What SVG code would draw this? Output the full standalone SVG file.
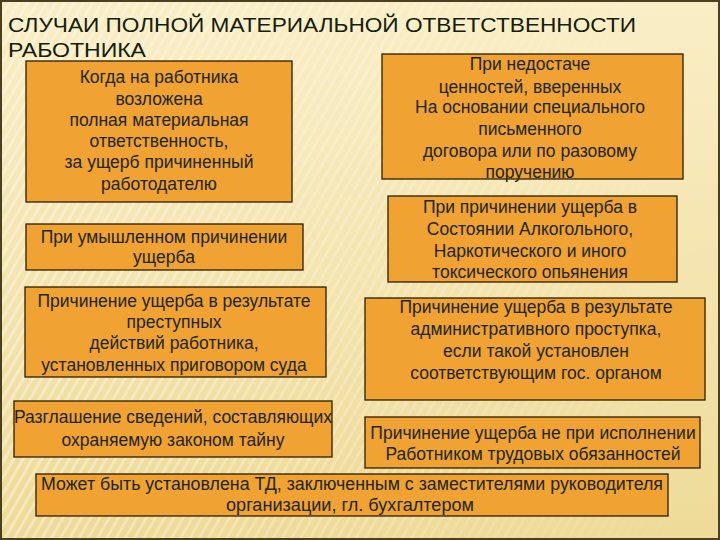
<svg xmlns="http://www.w3.org/2000/svg" width="720" height="540" viewBox="0 0 720 540">
<defs>
<linearGradient id="bg" x1="0" y1="0" x2="0" y2="1">
<stop offset="0" stop-color="#faeec6"/>
<stop offset="1" stop-color="#eedb98"/>
</linearGradient>
<pattern id="stripes" width="8" height="8" patternUnits="userSpaceOnUse" patternTransform="rotate(30)">
<rect width="8" height="8" fill="none"/>
<rect width="3" height="8" fill="#ffffff" opacity="0.35"/>
</pattern>
<linearGradient id="fade" x1="0" y1="0" x2="1" y2="0">
<stop offset="0" stop-color="#fff" stop-opacity="1"/>
<stop offset="0.5" stop-color="#fff" stop-opacity="0.6"/>
<stop offset="1" stop-color="#fff" stop-opacity="0"/>
</linearGradient>
<mask id="m"><rect width="720" height="540" fill="url(#fade)"/></mask>
</defs>
<style>
.box{fill:#f0a232;stroke:#2a1e08;stroke-width:1.3}
.t{font-family:"Liberation Sans",Arial,sans-serif;font-size:17.5px;fill:#1c2610;text-anchor:middle}
.n{font-family:"Liberation Sans",Arial,sans-serif;fill:#13200a}
</style>
<rect width="720" height="540" fill="url(#bg)"/>
<rect width="720" height="540" fill="url(#stripes)" mask="url(#m)"/>
<rect x="1" y="1" width="718" height="538" fill="none" stroke="#4a4020" stroke-width="2"/>
<g id="title">
<text class="n" x="8" y="32" font-size="21" textLength="628" lengthAdjust="spacingAndGlyphs">СЛУЧАИ ПОЛНОЙ МАТЕРИАЛЬНОЙ ОТВЕТСТВЕННОСТИ</text>
<text class="n" x="8" y="57" font-size="21" textLength="138" lengthAdjust="spacingAndGlyphs">РАБОТНИКА</text>
</g>
<g id="connectors"></g>
<g id="n1">
<rect class="box" x="26" y="61" width="266" height="141"/>
<text class="t" x="159" y="83">Когда на работника</text>
<text class="t" x="159" y="105">возложена</text>
<text class="t" x="159" y="126">полная материальная</text>
<text class="t" x="159" y="147">ответственность,</text>
<text class="t" x="159" y="168">за ущерб причиненный</text>
<text class="t" x="159" y="190">работодателю</text>
</g>
<g id="n2">
<rect class="box" x="26" y="224" width="277" height="46"/>
<text class="t" x="164" y="243">При умышленном причинении</text>
<text class="t" x="164" y="263">ущерба</text>
</g>
<g id="n3">
<rect class="box" x="382" y="54" width="301" height="125"/>
<text class="t" x="530" y="70">При недостаче</text>
<text class="t" x="530" y="93">ценностей, вверенных</text>
<text class="t" x="530" y="113">На основании специального</text>
<text class="t" x="530" y="135">письменного</text>
<text class="t" x="530" y="157">договора или по разовому</text>
<text class="t" x="530" y="178">поручению</text>
</g>
<g id="n4">
<rect class="box" x="388" y="196" width="289" height="86"/>
<text class="t" x="530" y="213">При причинении ущерба в</text>
<text class="t" x="530" y="235">Состоянии Алкогольного,</text>
<text class="t" x="530" y="257">Наркотического и иного</text>
<text class="t" x="530" y="278">токсического опьянения</text>
</g>
<g id="n5">
<rect class="box" x="25" y="287" width="301" height="90"/>
<text class="t" x="174" y="307">Причинение ущерба в результате</text>
<text class="t" x="174" y="328">преступных</text>
<text class="t" x="174" y="349">действий работника,</text>
<text class="t" x="174" y="371">установленных приговором суда</text>
</g>
<g id="n6">
<rect class="box" x="14" y="401" width="318" height="56"/>
<text class="t" x="173" y="423">Разглашение сведений, составляющих</text>
<text class="t" x="173" y="446">охраняемую законом тайну</text>
</g>
<g id="n7">
<rect class="box" x="365" y="298" width="340" height="102"/>
<text class="t" x="536" y="313">Причинение ущерба в результате</text>
<text class="t" x="536" y="335">административного проступка,</text>
<text class="t" x="536" y="357">если такой установлен</text>
<text class="t" x="536" y="379">соответствующим гос. органом</text>
</g>
<g id="n8">
<rect class="box" x="365" y="417" width="335" height="51"/>
<text class="t" x="533" y="439">Причинение ущерба не при исполнении</text>
<text class="t" x="533" y="460">Работником трудовых обязанностей</text>
</g>
<g id="n9">
<rect class="box" x="36" y="474" width="632" height="42"/>
<text class="t" x="352" y="490" font-size="17" textLength="622" lengthAdjust="spacingAndGlyphs">Может быть установлена ТД, заключенным с заместителями руководителя</text>
<text class="t" x="350" y="511" font-size="17" textLength="248" lengthAdjust="spacingAndGlyphs">организации, гл. бухгалтером</text>
</g>
</svg>
